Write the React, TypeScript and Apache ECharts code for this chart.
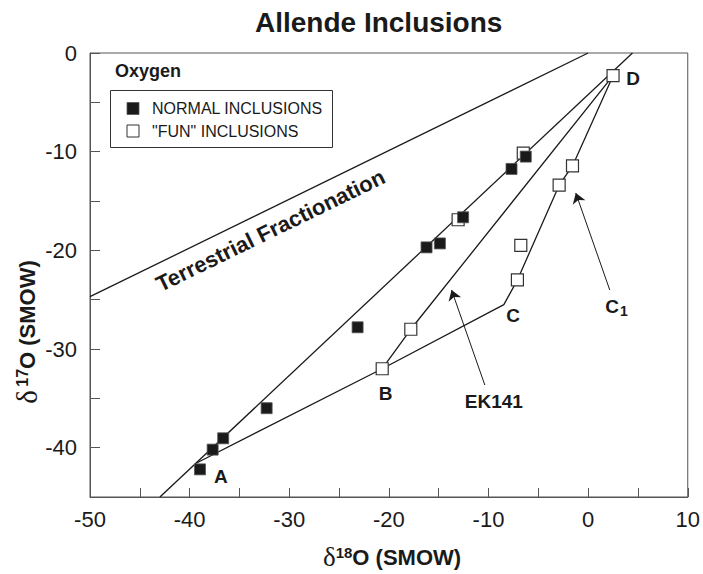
import React, { useEffect, useRef } from "react";
import * as echarts from "echarts";

// δ18O / δ17O (SMOW) of Allende inclusions, per mil
const normalInclusions: [number, number][] = [
  [-38.96, -42.2],
  [-37.69, -40.2],
  [-36.63, -39.05],
  [-32.27, -36.0],
  [-23.14, -27.8],
  [-16.22, -19.7],
  [-14.88, -19.3],
  [-12.55, -16.65],
  [-7.69, -11.75],
  [-6.26, -10.5],
];

const funInclusions: [number, number][] = [
  [2.5, -2.3],
  [-1.57, -11.45],
  [-2.91, -13.4],
  [-6.76, -19.5],
  [-7.1, -23.0],
  [-17.8, -28.0],
  [-20.67, -32.0],
  [-13.05, -16.9],
  [-6.51, -10.15],
];

// reference lines
const terrestrialLine: [number, number][] = [
  [-50, -24.7],
  [0, 0],
];
const mixingLine: [number, number][] = [
  [-42.98, -45],
  [4.45, 0],
];
const pathABCD: [number, number][] = [
  [-39.3, -41.55],
  [-20.67, -32.0],
  [-8.46, -25.5],
  [-7.1, -23.0],
  [-2.91, -13.4],
  [-1.57, -11.45],
  [2.5, -2.3],
];
const pathEK141: [number, number][] = [
  [-20.67, -32.0],
  [-17.8, -28.0],
  [2.5, -2.3],
];

// pointer arrows: [tail, head]
const arrowEK141: [number, number][] = [
  [-10.37, -33.65],
  [-13.71, -24.02],
];
const arrowC1: [number, number][] = [
  [2.17, -24.02],
  [-1.24, -14.19],
];

// point labels
const labelNames = ["A", "B", "C", "D", "{c|C}{s|1}", "EK141"];
const labelPositions: [number, number][] = [
  [-36.86, -42.97],
  [-20.33, -34.49],
  [-7.53, -26.65],
  [4.51, -2.56],
  [2.84, -25.7],
  [-9.47, -35.34],
];
const terrestrialLabel = "Terrestrial Fractionation";
const terrestrialLabelPos: [number, number] = [-31.89, -17.99];

const xTicks = { min: -50, max: 10, step: 5 };
const yTicks = { min: -45, max: 0, step: 5 };

const SANS = "'Liberation Sans', Arial, Helvetica, sans-serif";
const SERIF = "'Liberation Serif', 'Times New Roman', serif";
const INK = "#1a1a1a";

export default function App() {
  const ref = useRef<HTMLDivElement>(null);

  useEffect(() => {
    if (!ref.current) return;
    const chart = echarts.init(ref.current, undefined, { renderer: "svg" });

    const lineSeries = (name: string, data: [number, number][]) => ({
      name,
      type: "line",
      data,
      symbol: "none",
      silent: true,
      z: 1,
      lineStyle: { color: INK, width: 1.3 },
    });

    const tickLabel = (v: number) => (Math.abs(v) % 10 === 0 ? String(v) : "");

    const option: any = {
      animation: false,
      title: {
        text: "Allende Inclusions",
        left: 255,
        top: 8,
        padding: 0,
        textStyle: { fontFamily: SANS, fontSize: 28, fontWeight: "bold", color: INK },
      },
      grid: {
        left: 90,
        right: 15,
        top: 53,
        bottom: 77,
        show: true,
        borderColor: "#555",
        borderWidth: 1,
        backgroundColor: "transparent",
      },
      xAxis: {
        type: "value",
        min: xTicks.min,
        max: xTicks.max,
        interval: xTicks.step,
        axisLine: { show: true, onZero: false, lineStyle: { color: "#555", width: 1 } },
        axisTick: { show: true, inside: true, length: 9, lineStyle: { color: "#555" } },
        splitLine: { show: false },
        axisLabel: {
          formatter: tickLabel,
          fontFamily: SANS,
          fontSize: 22,
          color: INK,
          margin: 11,
        },
      },
      yAxis: {
        type: "value",
        min: yTicks.min,
        max: yTicks.max,
        interval: yTicks.step,
        axisLine: { show: true, onZero: false, lineStyle: { color: "#555", width: 1 } },
        axisTick: { show: true, inside: true, length: 10, lineStyle: { color: "#555" } },
        splitLine: { show: false },
        axisLabel: {
          formatter: tickLabel,
          fontFamily: SANS,
          fontSize: 22,
          color: INK,
          margin: 13,
        },
      },
      series: [
        lineSeries("Terrestrial Fractionation", terrestrialLine),
        lineSeries("CAI mixing line", mixingLine),
        lineSeries("A-B-C-D", pathABCD),
        lineSeries("EK141 path", pathEK141),
        {
          name: "arrows",
          type: "line",
          data: [],
          silent: true,
          markLine: {
            silent: true,
            symbol: ["none", "arrow"],
            symbolSize: 10,
            label: { show: false },
            lineStyle: { color: INK, width: 1, type: "solid", opacity: 1 },
            itemStyle: { color: INK },
            data: [
              [{ coord: arrowEK141[0] }, { coord: arrowEK141[1] }],
              [{ coord: arrowC1[0] }, { coord: arrowC1[1] }],
            ],
          },
        },
        {
          name: '"FUN" INCLUSIONS',
          type: "scatter",
          symbol: "rect",
          symbolSize: 12,
          z: 3,
          data: funInclusions,
          itemStyle: { color: "#fff", borderColor: "#333", borderWidth: 1.2, opacity: 1 },
        },
        {
          name: "NORMAL INCLUSIONS",
          type: "scatter",
          symbol: "rect",
          symbolSize: 11,
          z: 4,
          data: normalInclusions,
          itemStyle: { color: INK, borderColor: "#555", borderWidth: 0.8, opacity: 1 },
        },
        {
          name: "labels",
          type: "scatter",
          symbolSize: 1,
          silent: true,
          z: 5,
          itemStyle: { color: "transparent", opacity: 1 },
          data: [
            ...labelPositions.map((p, i) => ({
              value: p,
              label: { formatter: labelNames[i] },
            })),
            {
              value: terrestrialLabelPos,
              label: { formatter: terrestrialLabel, rotate: 26, fontSize: 22 },
            },
          ],
          label: {
            show: true,
            position: "inside",
            fontFamily: SANS,
            fontSize: 19,
            fontWeight: "bold",
            color: INK,
            rich: {
              c: { fontFamily: SANS, fontSize: 19, fontWeight: "bold", color: INK },
              s: {
                fontFamily: SANS,
                fontSize: 14,
                fontWeight: "bold",
                color: INK,
                padding: [8, 0, 0, 1],
              },
            },
          },
        },
      ],
      graphic: [
        {
          type: "text",
          left: 115,
          top: 62,
          style: { text: "Oxygen", fontFamily: SANS, fontSize: 18, fontWeight: "bold", fill: INK },
        },
        {
          type: "rect",
          shape: { x: 110.5, y: 90.5, width: 222, height: 57 },
          style: { fill: "#fff", stroke: "#333", lineWidth: 1 },
        },
        {
          type: "rect",
          shape: { x: 127, y: 102.5, width: 12, height: 12 },
          style: { fill: INK, stroke: "#555", lineWidth: 0.8 },
        },
        {
          type: "text",
          x: 152,
          y: 108.5,
          style: {
            text: "NORMAL INCLUSIONS",
            fontFamily: SANS,
            fontSize: 16,
            fill: INK,
            verticalAlign: "middle",
          },
        },
        {
          type: "rect",
          shape: { x: 127, y: 125, width: 12, height: 12 },
          style: { fill: "#fff", stroke: "#333", lineWidth: 1 },
        },
        {
          type: "text",
          x: 152,
          y: 131,
          style: {
            text: '"FUN" INCLUSIONS',
            fontFamily: SANS,
            fontSize: 16,
            fill: INK,
            verticalAlign: "middle",
          },
        },
        {
          type: "text",
          x: 392,
          y: 557,
          style: {
            text: "{d|δ}{s|18}{b|O (SMOW)}",
            align: "center",
            verticalAlign: "middle",
            rich: {
              d: { fontFamily: SERIF, fontSize: 27, fill: INK },
              s: { fontFamily: SANS, fontSize: 15, fontWeight: "bold", fill: INK, padding: [0, 0, 9, 0] },
              b: { fontFamily: SANS, fontSize: 22, fontWeight: "bold", fill: INK },
            },
          },
        },
        {
          type: "text",
          x: 27,
          y: 332,
          rotation: Math.PI / 2,
          style: {
            text: "{d|δ} {s|17}{b|O (SMOW)}",
            align: "center",
            verticalAlign: "middle",
            rich: {
              d: { fontFamily: SERIF, fontSize: 29, fill: INK },
              s: { fontFamily: SANS, fontSize: 16, fontWeight: "bold", fill: INK, padding: [0, 0, 9, 0] },
              b: { fontFamily: SANS, fontSize: 22, fontWeight: "bold", fill: INK },
            },
          },
        },
      ],
    };

    chart.setOption(option);
    return () => chart.dispose();
  }, []);

  return (
    <div
      ref={ref}
      style={{ position: "fixed", left: 0, top: 0, width: 703, height: 574, background: "#fff" }}
    />
  );
}
